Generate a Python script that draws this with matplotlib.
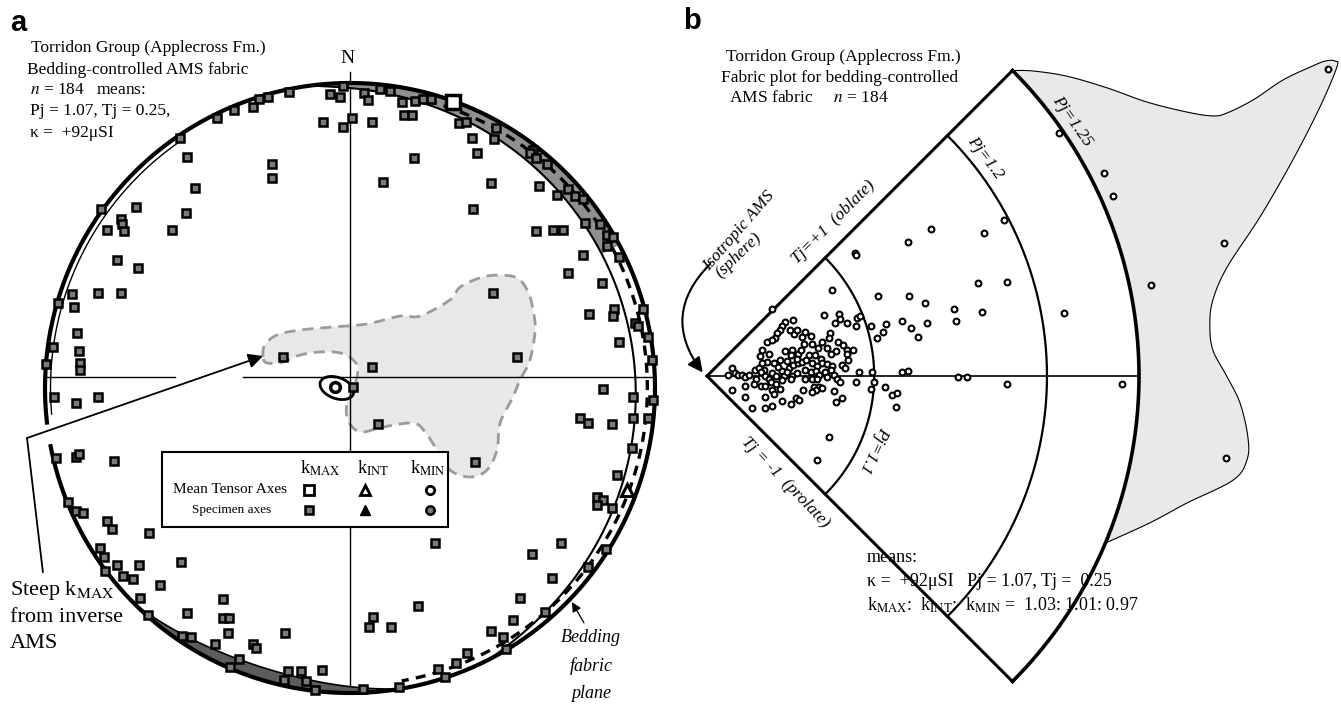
import numpy as np
import matplotlib
matplotlib.use("Agg")
import matplotlib.pyplot as plt
from matplotlib.patches import Rectangle, Ellipse, Polygon, FancyArrowPatch

plt.rcParams['font.family'] = ['Liberation Serif', 'DejaVu Serif']
plt.rcParams['mathtext.fontset'] = 'stix'

W, H = 1341, 706

# --- painel a: eixos kMAX na rede de igual área (x, y em % do raio da rede) ---
kmax_x = [-2.3, -6.6, -3.3, 4.6, 5.9, 9.8, 13.1, 17.0, 21.3, 23.9, 26.6,
          -8.9, -2.3, 0.7, 7.2, 17.7, 20.3, 35.7, 38.0, 40.0, 21.0, 10.8,
          -20.0, -26.9, -29.8, -31.8, -38.0, -43.6, -55.7, -53.4, -25.6, -25.6,
          -50.8, -53.8, -70.2, -81.6, -75.1, -74.8, -74.1, -79.7, -58.4, -76.4,
          -69.5, -91.1, -82.6, -75.1, -95.7, -90.5, -89.5, -97.4, -88.9, -88.5,
          -88.5, -99.7, -97.0, -89.8, -82.6, -22.0, 7.2, 1.0, 9.2,
          -96.4, -89.8, -88.9, -77.4, -92.5, -89.8, -87.5, -79.7, -78.0,
          -65.9, -82.0, -80.7, -76.4, -69.2, -55.4, -80.3, -74.4, -71.1,
          -62.3, -68.9, -41.6, -53.4, -41.6, -39.7, -66.2, -40.0, -21.3,
          -55.1, -52.1, -44.3, -31.8, -30.8, -36.4, -39.3, -20.3, -16.1,
          -9.2, -21.6, -14.4, -11.5, 4.3, 16.1, 27.9, 22.3, 7.5, 6.2,
          13.4, 28.9, 31.1, 34.8, 38.4, 51.1, 50.2, 46.2, 53.4, 63.9,
          55.7, 66.2, 78.0, 59.7, 69.2, 83.9, 81.0, 83.0, 81.0, 85.9,
          87.5, 92.5, 41.0, 75.4, 78.0, 85.9, 92.8, 97.7, 83.0, 92.8,
          99.3, 99.0, 97.7, 88.2, 93.4, 94.4, 96.1, 78.4, 86.6, 86.2, 46.9,
          54.8, 82.6, 71.5, 76.4, 88.2, 84.3, 86.2, 84.3, 82.0, 77.0, 61.0,
          66.6, 69.8, 67.9, 71.5, 73.8, 76.4, 62.0, 64.6, 60.0, 59.0, 61.0,
          46.2, 40.3, 47.9, 47.2, 41.6]
kmax_y = [99.0, 96.4, 95.4, 96.7, 94.4, 98.0, 97.4, 93.8, 94.1, 94.8, 94.8,
          87.2, 85.6, 88.5, 87.2, 89.5, 89.5, 86.9, 87.2, 82.0, 75.4, 67.5,
          97.0, 95.4, 94.8, 92.1, 91.1, 88.5, 82.0, 75.7, 73.4, 68.9,
          65.6, 57.4, 59.3, 58.7, 55.4, 53.8, 51.5, 51.8, 51.8, 42.0,
          39.3, 30.8, 31.1, 31.1, 27.9, 26.6, 18.0, 13.4, 12.1, 8.2,
          5.9, 7.9, -3.0, -4.9, -3.0, 10.2, 6.9, 0.3, -11.8,
          -23.0, -22.6, -21.6, -23.9, -37.4, -40.3, -41.0, -43.6, -46.2,
          -47.5, -52.5, -55.4, -58.0, -58.0, -57.0, -60.0, -61.6, -62.6,
          -64.6, -68.9, -69.2, -73.8, -75.4, -75.4, -74.4, -80.3, -80.3,
          -81.3, -81.6, -83.9, -83.9, -85.2, -88.9, -91.5, -92.8, -92.8,
          -92.5, -95.7, -96.1, -99.0, -98.7, -98.0, -50.8, -71.5, -75.1, -78.4,
          -78.4, -92.1, -94.8, -90.2, -86.9, -85.6, -81.6, -79.7, -76.1, -73.4,
          -68.9, -62.3, -58.7, -54.4, -50.8, -52.8, -35.7, -36.7, -38.4, -39.3,
          -28.5, -19.7, -24.3, -9.8, -11.5, -11.8, -9.8, -9.8, -0.3, -3.0,
          -3.9, 9.2, 16.7, 15.1, 21.3, 20.3, 25.9, 24.3, 25.9, 23.6, 31.1,
          10.2, 34.4, 37.7, 43.6, 43.0, 50.2, 49.5, 46.6, 53.8, 54.1, 51.5,
          51.8, 51.8, 63.3, 65.2, 63.0, 62.0, 66.2, 73.4, 78.0, 77.0, 75.4,
          67.2, 58.7, 85.2, 81.6, 77.0]

mean_kmax = (33.8, 93.8)
mean_kint = (90.8, -33.4)
mean_kmin = (-4.9, 0.3)

# região de confiança (contorno tracejado cinza)
region_x = [-28.5, -27.9, -23.9, -16.4, -5.6, 5.6, 16.4, 23.0, 32.8, 36.1, 42.6,
            48.2, 54.8, 58.4, 60.0, 60.7, 59.0, 55.7, 53.4, 49.2, 48.2, 44.9,
            39.3, 32.8, 28.5, 24.6, 20.7, 10.8, 3.3, -0.7, -1.0, 1.0, 2.6, 1.0,
            -3.3, -9.8, -16.4, -22.0, -27.2]
region_y = [10.2, 14.1, 17.4, 19.0, 20.0, 21.0, 23.6, 23.6, 28.9, 33.1, 36.1,
            37.0, 36.1, 31.5, 25.6, 19.0, 9.2, 2.6, -3.0, -11.5, -20.3, -26.9,
            -29.2, -26.9, -20.3, -14.4, -11.5, -12.8, -14.4, -10.5, -4.9, -0.7,
            5.9, 9.2, 11.5, 11.8, 10.8, 8.5, 8.2]

# --- painel b: gráfico Pj-Tj (x, y em % do raio do arco Pj = 1.25) ---
fab_x = [15.0, 27.0, 30.5, 30.9, 29.6, 32.5, 34.7, 35.5, 34.5, 37.9, 41.5, 40.7, 39.4,
         19.8, 18.1, 17.4, 16.9, 16.3, 15.7, 13.9, 15.1, 20.1, 20.9, 22.0, 24.1, 22.4,
         28.4, 28.2, 26.7, 30.4, 31.5, 29.8, 32.3, 33.7, 32.5, 32.7, 12.7, 12.3, 18.1,
         19.7, 21.1, 14.3, 13.9, 15.5, 13.1, 16.5, 17.4, 18.9, 19.9, 21.1, 22.0, 23.6,
         25.0, 26.3, 26.7, 23.0, 24.4, 25.5, 27.8, 29.0, 31.3, 31.9, 22.7, 24.0, 25.2,
         25.9, 27.4, 28.6, 29.4, 30.1, 30.9, 5.8, 6.4, 4.9, 7.2, 8.1, 8.9, 9.7, 11.1,
         12.1, 11.3, 12.6, 13.5, 14.3, 15.1, 15.9, 17.8, 18.6, 19.7, 20.9, 8.9, 10.9,
         12.4, 13.5, 14.7, 15.9, 17.4, 19.4, 22.8, 24.4, 25.5, 27.8, 24.8, 25.9, 26.7,
         25.2, 24.4, 22.2, 15.1, 17.0, 15.5, 13.5, 8.8, 5.8, 10.5, 13.5, 15.1, 17.4,
         19.4, 20.5, 21.2, 29.4, 29.8, 31.3, 34.5, 35.1, 38.1, 38.7, 37.9, 41.1, 28.2,
         25.4, 18.6, 17.0, 19.4, 20.9, 12.7, 21.8, 24.3, 25.8, 27.8, 28.6, 22.6, 19.1,
         34.3, 34.5, 28.9, 46.5, 51.9, 64.1, 68.8, 39.6, 46.8, 50.5, 62.7, 69.4, 57.2,
         57.6, 63.7, 45.1, 47.2, 50.9, 48.8, 45.1, 46.5, 58.1, 60.2, 69.4, 42.8, 44.0,
         43.8, 81.5, 91.9, 94.0, 119.7, 102.8, 82.6, 96.1, 120.1, 143.8]
fab_y = [15.6, 14.1, 14.3, 13.1, 12.3, 12.3, 13.5, 13.9, 11.5, 11.5, 12.0, 10.3, 8.7,
         12.9, 12.5, 11.5, 10.6, 9.9, 8.7, 7.9, 8.3, 9.7, 10.6, 9.1, 9.3, 7.5,
         9.9, 8.7, 7.9, 7.9, 7.1, 5.8, 6.1, 6.1, 5.2, 3.6, 6.1, 4.6, 5.8,
         6.1, 5.2, 5.2, 3.3, 3.1, 1.5, 2.1, 1.2, 1.8, 2.5, 2.9, 3.3, 4.8,
         4.8, 4.0, 3.1, 3.6, 2.9, 2.3, 2.8, 2.2, 2.5, 1.8, 1.4, 1.0, 1.2,
         0.2, 1.0, 1.4, 0.2, -0.6, -1.4, 1.8, 0.8, 0.2, 0.2, 0.2, -0.3, 0.2, 1.4,
         1.8, -0.6, 1.0, 0.0, -0.6, 0.8, 0.0, 0.0, 1.0, 0.0, 0.6, -2.2, -1.9,
         -2.4, -2.3, -1.4, -1.8, -1.0, -0.8, -0.8, -0.8, -0.6, -0.3, -2.5, -2.5, -2.7,
         -3.3, -3.8, -3.2, -3.3, -2.9, -4.2, -4.9, -4.8, -3.2, -7.3, -7.5, -7.0, -5.7,
         -6.5, -5.2, -5.6, -3.5, -6.0, -5.2, -1.4, 1.0, 1.0, -1.4, -2.9, -2.5, -14.1,
         -19.5, 3.4, 3.7, 4.8, 4.0, 2.9, 6.0, 7.5, 6.4, 6.4, 5.2, 10.3, 10.7,
         28.5, 28.0, 19.9, 31.0, 34.0, 33.1, 36.1, 18.5, 18.5, 16.9, 21.5, 21.8, 15.5,
         12.7, 14.8, 12.7, 11.1, 12.3, 9.0, 0.9, 1.2, -0.2, -0.2, -1.9, -4.4, -3.9,
         -7.2, 56.3, 47.0, 41.7, 30.8, 21.1, 14.6, -1.9, -19.0, 71.1]

pj_levels = [1.1, 1.2, 1.25]
pj_knots = [1.0, 1.1, 1.2, 1.25]
r_knots = [0.0, 38.7, 78.7, 100.0]

# área sombreada à direita do arco Pj = 1.25
blob_x = [102.5, 111.1, 121.8, 125.0, 125.2, 123.4, 120.4, 117.1, 116.4, 117.1,
          120.4, 128.0, 135.6, 141.9, 145.8, 145.4, 143.1, 139.6, 133.3, 126.4,
          120.4, 117.1, 111.1, 101.9, 92.6, 83.3, 75.5]
blob_y = [-34.0, -29.4, -24.1, -19.4, -14.1, -6.3, -0.2, 6.0, 11.8, 17.6,
          25.2, 36.8, 50.0, 62.3, 71.5, 72.9, 72.9, 71.5, 68.5, 63.9,
          60.9, 60.2, 61.1, 63.4, 66.7, 69.4, 70.6]


def catmull(pts, n=10, closed=True):
    pts = np.asarray(pts, float)
    if closed:
        P = np.vstack([pts[-1], pts, pts[0], pts[1]])
        nseg = len(pts)
    else:
        P = np.vstack([pts[0], pts, pts[-1]])
        nseg = len(pts) - 1
    out = []
    t = np.linspace(0, 1, n, endpoint=False)[:, None]
    for i in range(1, nseg + 1):
        p0, p1, p2, p3 = P[i - 1], P[i], P[i + 1], P[i + 2]
        out.append(0.5 * (2 * p1 + (-p0 + p2) * t + (2 * p0 - 5 * p1 + 4 * p2 - p3) * t ** 2
                          + (-p0 + 3 * p1 - 3 * p2 + p3) * t ** 3))
    if not closed:
        out.append(pts[-1][None, :])
    return np.vstack(out)


def px(x, y):
    return x / W, 1 - y / H


def arc(r, a0, a1, n=300):
    t = np.radians(np.linspace(a0, a1, n))
    return r * np.cos(t), r * np.sin(t)


fig = plt.figure(figsize=(W / 100, H / 100), dpi=100)

# ================= painel a =================
ax = fig.add_axes([0, 0, 700 / W, 1])
ax.set_xlim(-350 / 3.05, 350 / 3.05)
ax.set_ylim((388 - 706) / 3.05, 388 / 3.05)
ax.axis('off')

# região tracejada
reg = catmull(list(zip(region_x, region_y)), n=8)
ax.add_patch(Polygon(reg, closed=True, fc='#e7e8ea', ec='#9b9b9b', lw=2,
                     ls=(0, (4, 2.5)), zorder=1))

# cruz central
ax.plot([0, 0], [103.6, -100], color='k', lw=1, zorder=2)
ax.plot([-99.7, -57.4], [3.6, 3.6], color='k', lw=1, zorder=2)
ax.plot([-35.1, 100], [3.6, 3.6], color='k', lw=1, zorder=2)

# faixa cinza superior direita e linha interna do plano
def r_inner(a):
    f = np.clip((a + 62) / 159.0, 0, 1)
    return 100 - 6.6 * np.sin(np.pi * f) ** 0.7

th = np.linspace(97, 28, 120)
xo, yo = arc(100, 97, 28, 120)
ri = r_inner(th)
xi, yi = ri * np.cos(np.radians(th)), ri * np.sin(np.radians(th))
ax.fill(np.r_[xo, xi[::-1]], np.r_[yo, yi[::-1]], color='#909090', lw=0, zorder=2)
th2 = np.linspace(97, -62, 300)
ri2 = r_inner(th2)
ax.plot(ri2 * np.cos(np.radians(th2)), ri2 * np.sin(np.radians(th2)), color='k', lw=1.5, zorder=3)

# crescente escuro inferior esquerdo
th3 = np.linspace(225, 279.5, 150)
ri3 = 100 - 4.0 * np.sin(np.pi * (th3 - 225) / 54.5)
xo3, yo3 = arc(100, 225, 279.5, 150)
xi3, yi3 = ri3 * np.cos(np.radians(th3)), ri3 * np.sin(np.radians(th3))
ax.fill(np.r_[xo3, xi3[::-1]], np.r_[yo3, yi3[::-1]], fc='#5c5c5c', ec='k', lw=1.2, zorder=2)

# plano de foliação (tracejado)
xd, yd = arc(97.5, 75, -80)
ax.plot(xd, yd, color='k', lw=2.4, ls=(0, (3, 2.2)), zorder=3)

# linha fina interna à esquerda
xl, yl = arc(98.2, 125, 185)
ax.plot(xl, yl, color='k', lw=1, zorder=3)

# círculo primitivo (com falha à esquerda)
xc, yc = arc(100, -169, 186.5, 500)
ax.plot(xc, yc, color='k', lw=3, zorder=3)

# elipse de confiança
ax.add_patch(Ellipse((-4.3, 0.0), 11.5, 6.9, angle=-20, fill=False, ec='k', lw=2, zorder=4))

# eixos dos espécimes
ax.plot(kmax_x, kmax_y, ls='none', marker='s', ms=5.5, mfc='#7a7a7a', mec='k', mew=1.8, zorder=5)

# médias
ax.plot(*mean_kmax, marker='s', ms=10, mfc='white', mec='k', mew=2.5, zorder=6)
ax.plot(*mean_kint, marker='^', ms=9, mfc='white', mec='k', mew=2.2, zorder=6)
ax.plot(*mean_kmin, marker='o', ms=7, mfc='white', mec='k', mew=2.5, zorder=6)

ax.text(-0.7, 107.9, 'N', ha='center', va='center', fontsize=14)

# chamada "Steep kMAX"
ax.plot([-100.7, -105.9], [-60.3, -16.4], color='k', lw=1.3, clip_on=False)
ax.annotate('', xy=(-28.5, 10.5), xytext=(-105.9, -16.4),
            arrowprops=dict(arrowstyle='-|>', color='k', lw=1.3, mutation_scale=22,
                            shrinkA=0, shrinkB=0), annotation_clip=False)
ax.annotate('', xy=(72.8, -70.2), xytext=(76.7, -77.0),
            arrowprops=dict(arrowstyle='-|>', color='k', lw=0.9, mutation_scale=14,
                            shrinkA=0, shrinkB=0))

# legenda
ax.add_patch(Rectangle((-61.6, -45.6), 93.7, 24.6, fc='white', ec='k', lw=1.5, zorder=7))
for xh, lab in zip([-9.8, 7.5, 25.6], ['MAX', 'INT', 'MIN']):
    ax.text(xh, -26.2, r'k$_{\mathrm{%s}}$' % lab, ha='center', va='center', fontsize=13, zorder=8)
ax.text(-20.7, -33.4, 'Mean Tensor Axes', ha='right', va='center', fontsize=11, zorder=8)
ax.text(-38.7, -40.0, 'Specimen axes', ha='center', va='center', fontsize=9.5, zorder=8)
ax.plot(-13.4, -33.4, marker='s', ms=6.5, mfc='white', mec='k', mew=2, zorder=8)
ax.plot(4.9, -33.4, marker='^', ms=7, mfc='white', mec='k', mew=2, zorder=8)
ax.plot(26.2, -33.4, marker='o', ms=6, mfc='white', mec='k', mew=2, zorder=8)
ax.plot(-13.4, -40.0, marker='s', ms=5.5, mfc='#7a7a7a', mec='k', mew=1.8, zorder=8)
ax.plot(4.9, -40.0, marker='^', ms=7, mfc='k', mec='k', mew=1, zorder=8)
ax.plot(26.2, -40.0, marker='o', ms=6, mfc='#7a7a7a', mec='k', mew=1.8, zorder=8)

# ================= painel b =================
bx = fig.add_axes([660 / W, 0, 681 / W, 1])
bx.set_xlim(-47 / 4.32, 634 / 4.32)
bx.set_ylim(-330 / 4.32, 376 / 4.32)
bx.axis('off')

r_edge = np.interp(1.25, pj_knots, r_knots)
a_end = -22.75
xa, ya = arc(r_edge, 45, a_end, 200)
blob = catmull([(xa[-1], ya[-1])] + list(zip(blob_x, blob_y)) + [(xa[0], ya[0])], n=10, closed=False)
bx.fill(np.r_[xa, blob[:, 0]], np.r_[ya, blob[:, 1]], fc='#e8e9eb', ec='k', lw=0.8, zorder=1)

for pj in pj_levels:
    r = np.interp(pj, pj_knots, r_knots)
    xs, ys = arc(r, -45, 45)
    bx.plot(xs, ys, color='k', lw=2.6 if pj == 1.25 else 1.6, zorder=2)

for tj in (-1, 1):
    a = np.radians(45 * tj)
    bx.plot([0, r_edge * np.cos(a)], [0, r_edge * np.sin(a)], color='k', lw=2.2, zorder=2)
bx.plot([0, r_edge], [0, 0], color='k', lw=1.2, zorder=2)

bx.plot(fab_x, fab_y, ls='none', marker='o', ms=4.2, mfc='white', mec='k', mew=1.5, zorder=5)

bx.add_patch(FancyArrowPatch(posA=(1.2, 26.4), posB=(-0.6, 0.3), connectionstyle='arc3,rad=0.45',
                             arrowstyle='-|>', mutation_scale=22, lw=1.5, color='k',
                             clip_on=False, zorder=6))

# ================= textos =================
fig.text(*px(10, 31), 'a', fontsize=21, fontweight='bold', family='Liberation Sans', va='baseline')
fig.text(*px(683, 29), 'b', fontsize=21, fontweight='bold', family='Liberation Sans', va='baseline')

fs = 12.5
for (x, y, s) in [(31, 48, 'Torridon Group (Applecross Fm.)'),
                  (27, 70, 'Bedding-controlled AMS fabric'),
                  (30, 90, r'$n$ = 184   means:'),
                  (30, 111, 'Pj = 1.07, Tj = 0.25,'),
                  (30, 133, 'κ =  +92μSI')]:
    fig.text(*px(x, y), s, fontsize=fs, ha='left', va='center')

for (x, y, s) in [(726, 57, 'Torridon Group (Applecross Fm.)'),
                  (721, 78, 'Fabric plot for bedding-controlled'),
                  (725, 98, r' AMS fabric     $n$ = 184')]:
    fig.text(*px(x, y), s, fontsize=fs, ha='left', va='center')

for (y, s) in [(590, r'Steep k$_{\mathrm{MAX}}$'), (617, 'from inverse'), (643, 'AMS')]:
    fig.text(*px(10, y), s, fontsize=16, ha='left', va='center')

for (y, s) in [(637, 'Bedding'), (666, 'fabric'), (694, 'plane')]:
    fig.text(*px(591, y), s, fontsize=13, style='italic', ha='center', va='center')

for (y, s) in [(558, 'means:'),
               (582, 'κ =  +92μSI   Pj = 1.07, Tj =  0.25'),
               (605, r'k$_{\mathrm{MAX}}$:  k$_{\mathrm{INT}}$:  k$_{\mathrm{MIN}}$ =  1.03: 1.01: 0.97')]:
    fig.text(*px(867, y), s, fontsize=13, ha='left', va='center')

rot_labels = [(833, 222, 'Tj=+1  (oblate)', 45),
              (739, 231, 'Isotropic AMS', 49),
              (738, 255, '(sphere)', 44),
              (985, 158, 'Pj=1.2', -53),
              (1072, 121, 'Pj=1.25', -55),
              (874, 450, 'Pj=1.1', 245),
              (785, 482, 'Tj = -1  (prolate)', -46)]
for (x, y, s, rot) in rot_labels:
    fig.text(*px(x, y), s, fontsize=12.5, style='italic', rotation=rot,
             rotation_mode='anchor', ha='center', va='center')

fig.savefig('out.png', dpi=100)
